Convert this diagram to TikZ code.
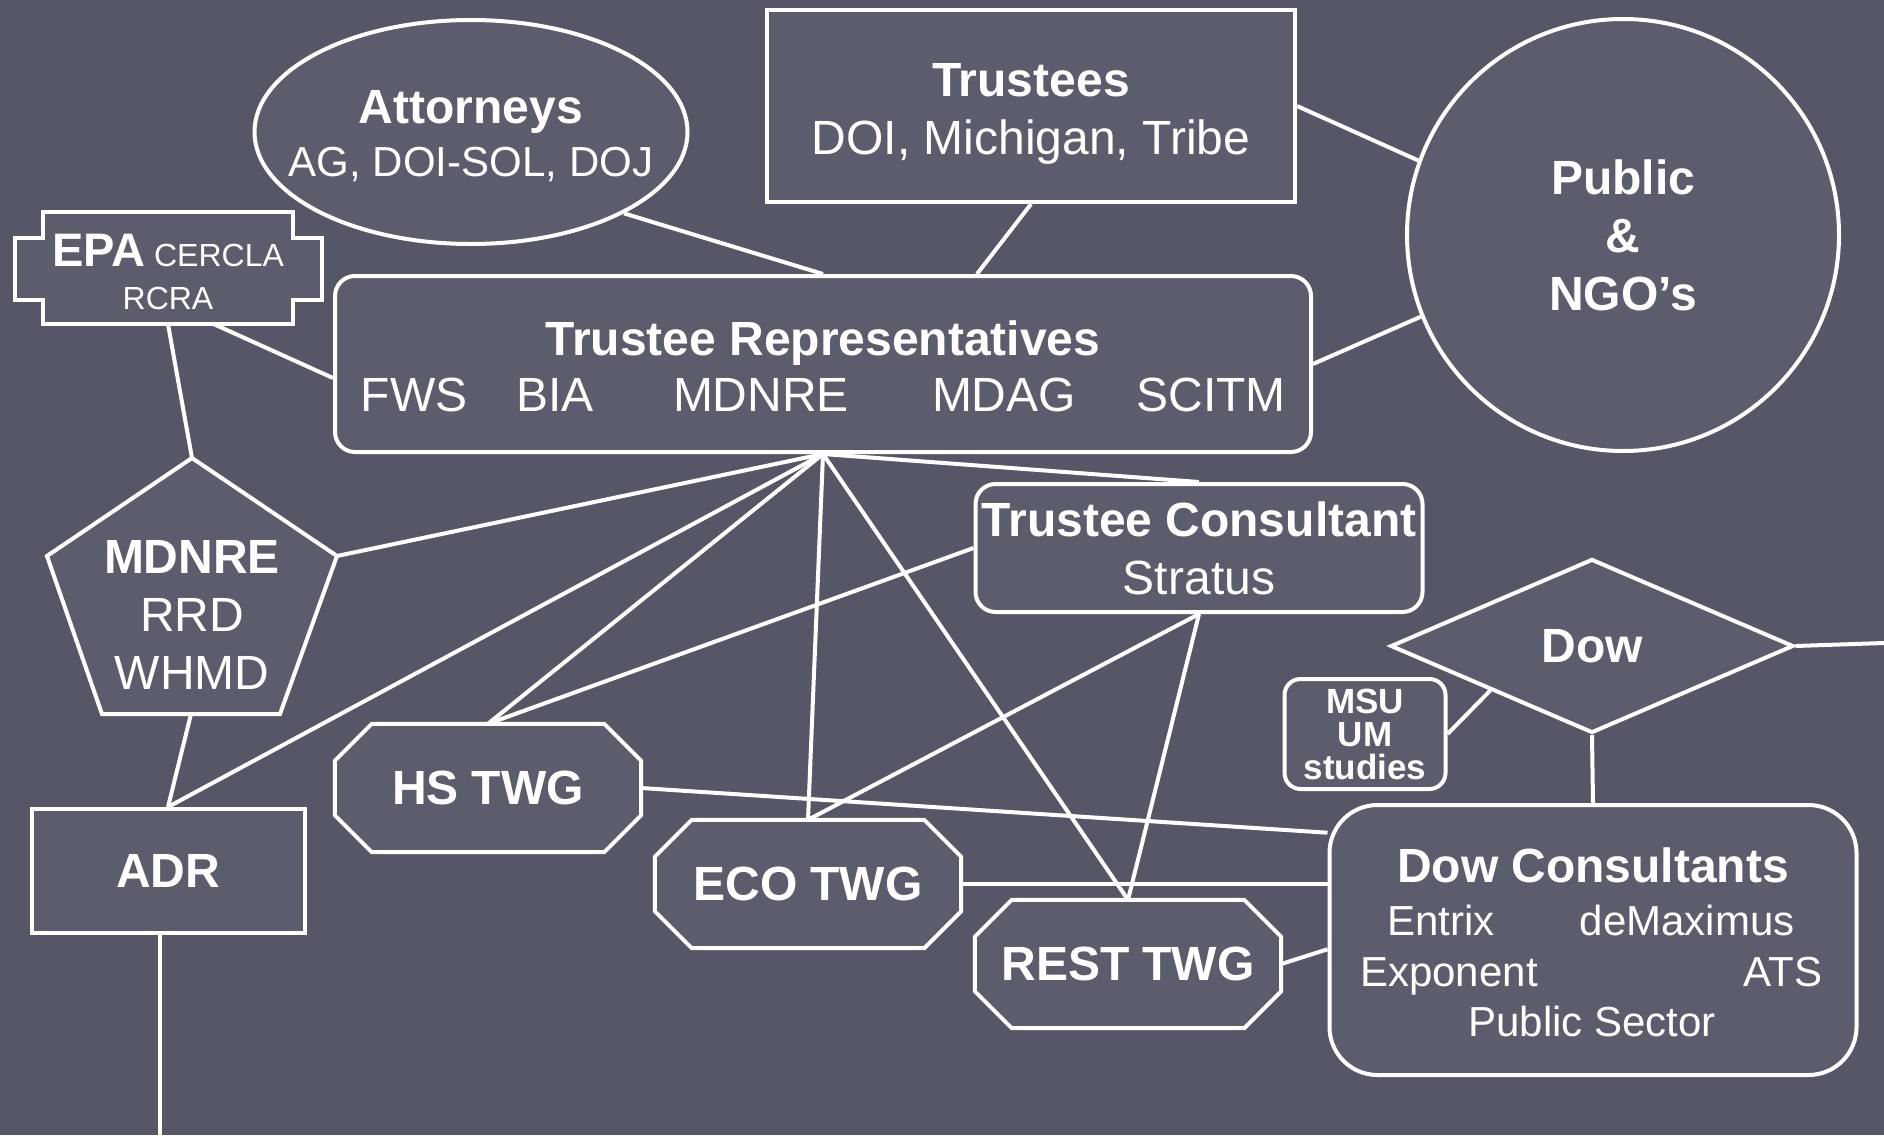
\documentclass[tikz,border=0pt]{standalone}
\usepackage{fontspec}
\setmainfont{Liberation Sans}
\usetikzlibrary{shapes.geometric}

\definecolor{slidebg}{RGB}{85,87,102}
\definecolor{boxfill}{RGB}{91,93,109}

\newcommand\bigtxt{\fontsize{48}{58}\selectfont}
\newcommand\subtxt{\fontsize{42}{51}\selectfont}
% octagon frame of a working group, then its label
\newcommand\twgbox[3]{%
  \node[twg] (#1) at (#2) {};
  \path[frame] ([xshift=37pt]#1.north west) -- ([xshift=-37pt]#1.north east)
    -- ([yshift=-37pt]#1.north east) -- ([yshift=37pt]#1.south east)
    -- ([xshift=-37pt]#1.south east) -- ([xshift=37pt]#1.south west)
    -- ([yshift=37pt]#1.south west) -- ([yshift=-37pt]#1.north west) -- cycle;
  \node[font=\bigtxt\bfseries] (#1-txt) at (#1) {#3};}

\begin{document}
\begin{tikzpicture}[x=1pt, y=-1pt,
  every node/.style={text=white},
  frame/.style={draw=white, line width=4pt, fill=boxfill},
  link/.style={draw=white, line width=4pt},
  box/.style={frame, inner sep=0pt, align=center, font=\bigtxt\bfseries},
  twg/.style={inner sep=0pt, minimum width=306pt, minimum height=128pt},
  txt/.style={anchor=base, align=center, font=\bigtxt}]
  \useasboundingbox[fill=slidebg] (0,0) rectangle (1884,1135);

  % top row
  \node[box, ellipse, minimum width=433pt, minimum height=224pt] (attorneys) at (471,132) {};
  \node[txt, font=\fontsize{48}{53}\selectfont] (attorneys-txt) at (471,176) {\textbf{Attorneys}\\{\subtxt AG, DOI-SOL, DOJ}};
  \node[box, minimum width=528pt, minimum height=192pt] (trustees) at (1031,106) {};
  \node[txt] (trustees-txt) at (1031,154) {\textbf{Trustees}\\DOI, Michigan, Tribe};
  \node[box, circle, minimum size=432pt] (public) at (1623,235) {Public\\\&\\NGO’s};

  % EPA
  \path[frame] (43,212) -- (293,212) -- (293,238) -- (322,238) -- (322,300) -- (293,300)
    -- (293,324) -- (43,324) -- (43,300) -- (15,300) -- (15,238) -- (43,238) -- cycle;
  \node[inner sep=0pt, minimum width=250pt, minimum height=112pt] (epa) at (168,268) {};
  \node[txt, font=\fontsize{32}{43}\selectfont] (epa-txt) at (168,309) {{\fontsize{47}{43}\selectfont\bfseries EPA} CERCLA\\RCRA};

  % trustee representatives
  \node[box, rounded corners=20pt, minimum width=976pt, minimum height=176pt] (trrep) at (823,364) {};
  \node[txt] (trrep-title) at (823,355) {\bfseries Trustee Representatives};
  \node[txt] (fws) at (414,411) {FWS};
  \node[txt] (bia) at (555,411) {BIA};
  \node[txt] (mdnre-rep) at (761,411) {MDNRE};
  \node[txt] (mdag) at (1004,411) {MDAG};
  \node[txt] (scitm) at (1211,411) {SCITM};

  % MDNRE pentagon
  \coordinate (mdnre-top) at (192,458);
  \coordinate (mdnre-right) at (337,556);
  \coordinate (mdnre-br) at (280,714);
  \coordinate (mdnre-bl) at (102,714);
  \coordinate (mdnre-left) at (47,556);
  \coordinate (mdnre-bottom) at (191,714);
  \path[frame] (mdnre-top) -- (mdnre-right) -- (mdnre-br) -- (mdnre-bl) -- (mdnre-left) -- cycle;
  \node[align=center, font=\bigtxt] (mdnre) at (192,615) {\textbf{MDNRE}\\RRD\\WHMD};

  \node[box, minimum width=273pt, minimum height=124pt] (adr) at (168,871) {ADR};
  \coordinate (adr-off) at (160,1135);

  \node[box, rounded corners=20pt, minimum width=447pt, minimum height=128pt] (tc) at (1199,548) {Trustee Consultant\\{\mdseries Stratus}};

  % working groups
  \twgbox{hstwg}{488,788}{HS TWG}
  \twgbox{ecotwg}{808,884}{ECO TWG}
  \twgbox{resttwg}{1128,964}{REST TWG}

  % Dow side
  \node[box, diamond, aspect=2.3, minimum width=403pt, minimum height=174pt] (dow) at (1592,646) {Dow};
  \coordinate (dow-off) at (1884,643);
  \node[box, rounded corners=16pt, minimum width=161pt, minimum height=110pt, font=\fontsize{35}{33}\selectfont\bfseries] (msu) at (1365,734) {MSU\\UM\\studies};
  \node[box, rounded corners=48pt, minimum width=527pt, minimum height=270pt] (dowcons) at (1593,940) {};
  \node[txt] (dowcons-title) at (1593,882) {\bfseries Dow Consultants};
  \node[txt, font=\subtxt] (entrix) at (1441,935) {Entrix};
  \node[txt, font=\subtxt] (demax) at (1687,935) {deMaximus};
  \node[txt, font=\subtxt] (exponent) at (1449,986) {Exponent};
  \node[txt, font=\subtxt] (ats) at (1783,986) {ATS};
  \node[txt, font=\subtxt] (pubsector) at (1592,1036) {Public Sector};

  % connectors
  \draw[link] (trustees.south) -- ([xshift=154pt]trrep.north);
  \draw[link] (attorneys.-28) -- (trrep.north);
  \draw[link] (trustees.east) -- (public.160);
  \draw[link] (trrep.east) -- (public.202);
  \draw[link] ([xshift=46pt]epa.south) -- ([yshift=-14pt]trrep.west);
  \draw[link] (epa.south) -- (mdnre-top);
  \draw[link] (trrep.south) -- (mdnre-right);
  \draw[link] (trrep.south) -- (adr.north);
  \draw[link] (mdnre-bottom) -- (adr.north);
  \draw[link] ([xshift=-8pt]adr.south) -- (adr-off);
  \draw[link] (trrep.south) -- (tc.north);
  \draw[link] (trrep.south) -- (hstwg.north);
  \draw[link] (trrep.south) -- (ecotwg.north);
  \draw[link] (trrep.south) -- (resttwg.north);
  \draw[link] (tc.west) -- (hstwg.north);
  \draw[link] (tc.south) -- (ecotwg.north);
  \draw[link] (tc.south) -- (resttwg.north);
  \draw[link] (hstwg.east) -- (dowcons.158);
  \draw[link] (ecotwg.east) -- (ecotwg.east -| dowcons.west);
  \draw[link] (resttwg.east) -- (dowcons.182);
  \draw[link] (dow.south) -- (dowcons.north);
  \draw[link] (msu.east) -- (dow.south west);
  \draw[link] (dow.east) -- (dow-off);
\end{tikzpicture}
\end{document}
